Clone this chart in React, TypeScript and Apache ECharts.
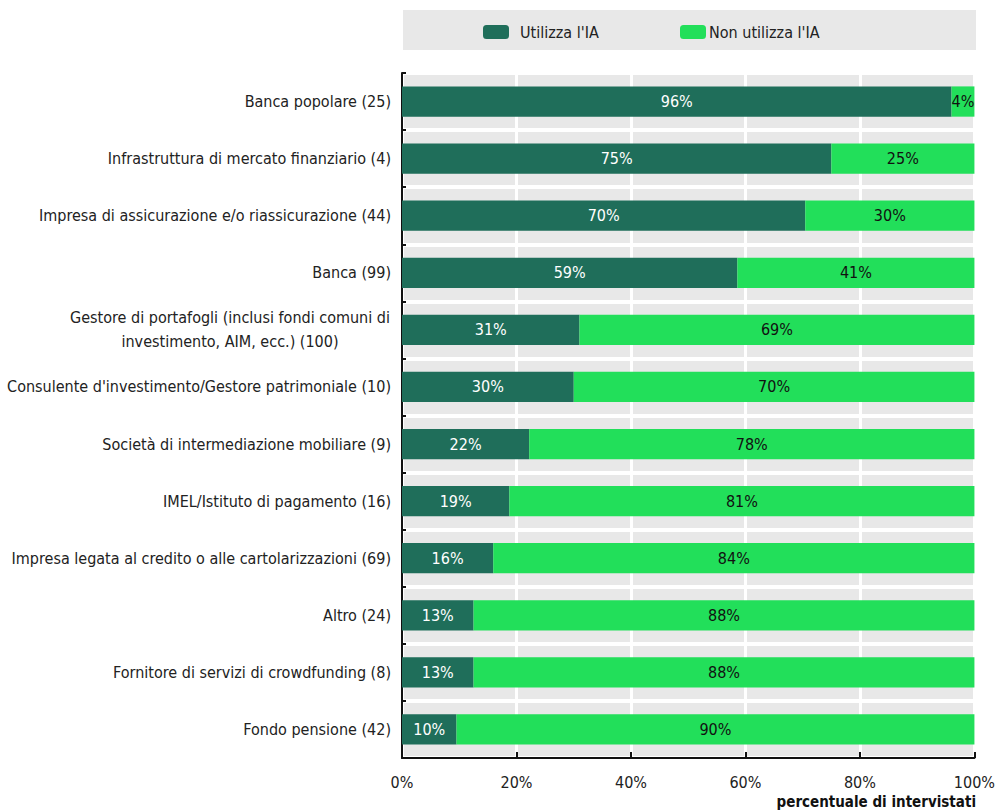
import React, { useEffect, useRef } from "react";
import * as echarts from "echarts";

const categories = [
  "Banca popolare (25)",
  "Infrastruttura di mercato finanziario (4)",
  "Impresa di assicurazione e/o riassicurazione (44)",
  "Banca (99)",
  "Gestore di portafogli (inclusi fondi comuni di\ninvestimento, AIM, ecc.) (100)",
  "Consulente d'investimento/Gestore patrimoniale (10)",
  "Società di intermediazione mobiliare (9)",
  "IMEL/Istituto di pagamento (16)",
  "Impresa legata al credito o alle cartolarizzazioni (69)",
  "Altro (24)",
  "Fornitore di servizi di crowdfunding (8)",
  "Fondo pensione (42)",
];

const usesAI = [96, 75, 70.45, 58.59, 31, 30, 22.22, 18.75, 15.94, 12.5, 12.5, 9.52];
const notUsesAI = [4, 25, 29.55, 41.41, 69, 70, 77.78, 81.25, 84.06, 87.5, 87.5, 90.48];

const xTicks = [0, 20, 40, 60, 80, 100];

const FONT = "'Liberation Sans Narrow', 'Arial Narrow', 'DejaVu Sans Condensed', sans-serif";

export default function App() {
  const ref = useRef<HTMLDivElement>(null);
  useEffect(() => {
    document.body.style.margin = "0";
    if (!ref.current) return;
    const chart = echarts.init(ref.current, null, { renderer: "svg" });
    chart.setOption({
      animation: false,
      textStyle: { fontFamily: FONT },
      graphic: [
        {
          type: "rect",
          left: 403,
          top: 10,
          shape: { width: 573, height: 40 },
          style: { fill: "#e8e8e8" },
          z: -1,
        },
        {
          type: "text",
          right: 22,
          top: 794,
          style: {
            text: "percentuale di intervistati",
            font: `bold 15px ${FONT}`,
            fill: "#111",
          },
        },
      ],
      legend: [
        {
          data: ["Utilizza l'IA"],
          left: 483,
          top: 24,
          padding: 0,
          itemWidth: 26,
          itemHeight: 14,
          textStyle: { fontSize: 16, color: "#222", fontFamily: FONT, padding: [0, 0, 0, 6] },
        },
        {
          data: ["Non utilizza l'IA"],
          left: 680,
          top: 24,
          padding: 0,
          itemWidth: 26,
          itemHeight: 14,
          textStyle: { fontSize: 16, color: "#222", fontFamily: FONT, padding: [0, 0, 0, -2] },
        },
      ],
      grid: {
        left: 402,
        right: 22,
        top: 73,
        bottom: 54,
        show: true,
        backgroundColor: "#e8e8e8",
        borderWidth: 0,
      },
      xAxis: {
        type: "value",
        min: 0,
        max: 100,
        interval: 20,
        axisLine: { show: true, lineStyle: { color: "#111", width: 2 } },
        axisTick: { show: true, inside: true, length: 6, lineStyle: { color: "#111", width: 2 } },
        splitLine: { show: true, lineStyle: { color: "#ffffff", width: 3 } },
        axisLabel: {
          fontSize: 16,
          color: "#222",
          margin: 16,
          fontFamily: FONT,
          formatter: (v: number) => (xTicks.includes(v) ? `${v}%` : ""),
        },
      },
      yAxis: {
        type: "category",
        inverse: true,
        data: categories,
        axisLine: { show: true, lineStyle: { color: "#111", width: 2 } },
        axisTick: { show: true, inside: true, length: 4, lineStyle: { color: "#111", width: 2 } },
        splitLine: { show: true, lineStyle: { color: "#ffffff", width: 4 } },
        axisLabel: {
          fontSize: 16,
          color: "#222",
          margin: 11,
          fontFamily: FONT,
          lineHeight: 24,
          formatter: (v: string) => {
            if (v.includes("\n")) {
              return v
                .split("\n")
                .map((l) => `{g|${l}}`)
                .join("\n");
            }
            return v;
          },
          rich: {
            g: { width: 322, align: "center", fontSize: 16, lineHeight: 24, color: "#222", fontFamily: FONT },
          },
        },
      },
      series: [
        {
          name: "Utilizza l'IA",
          type: "bar",
          stack: "total",
          barWidth: "53%",
          data: usesAI,
          itemStyle: { color: "#1f6e5a" },
          label: {
            show: true,
            position: "inside",
            color: "#ffffff",
            fontSize: 16,
            fontFamily: FONT,
            formatter: (p: any) => `${Math.round(p.value)}%`,
          },
        },
        {
          name: "Non utilizza l'IA",
          type: "bar",
          stack: "total",
          barWidth: "53%",
          data: notUsesAI,
          itemStyle: { color: "#22df5a" },
          label: {
            show: true,
            position: "inside",
            color: "#111111",
            fontSize: 16,
            fontFamily: FONT,
            formatter: (p: any) => `${Math.round(p.value)}%`,
          },
        },
      ],
    });
    return () => chart.dispose();
  }, []);
  return <div ref={ref} style={{ width: 998, height: 812 }} />;
}
